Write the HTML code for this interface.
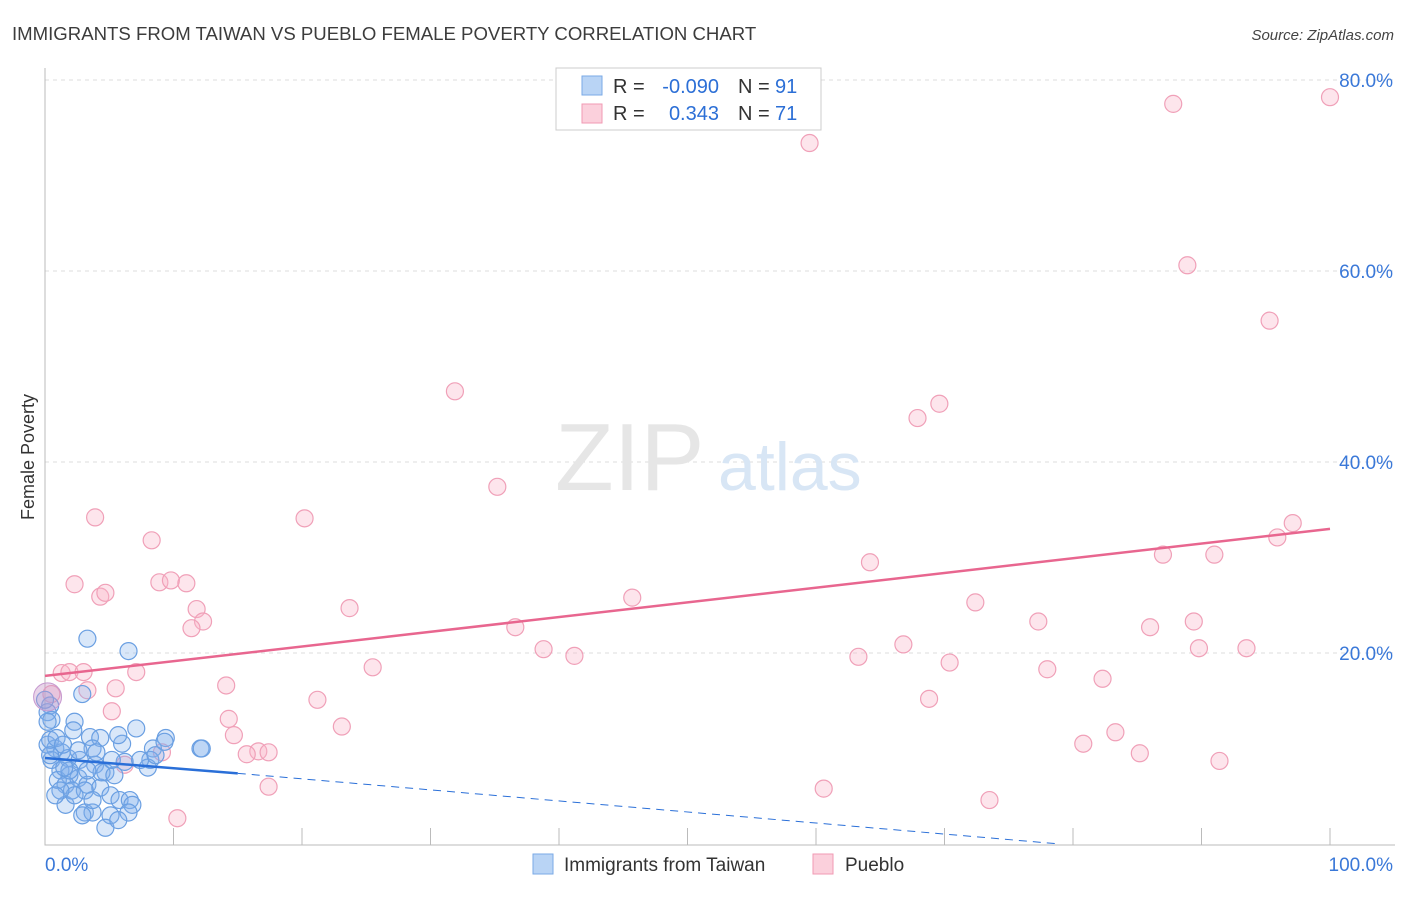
<!DOCTYPE html>
<html><head><meta charset="utf-8"><style>
body{margin:0;background:#fff;font-family:"Liberation Sans",sans-serif;}
svg text{font-family:"Liberation Sans",sans-serif;}
</style></head><body>
<svg id="chart" width="1406" height="892" xmlns="http://www.w3.org/2000/svg">
<text x="12" y="40" font-size="18.6" fill="#3c3c3c">IMMIGRANTS FROM TAIWAN VS PUEBLO FEMALE POVERTY CORRELATION CHART</text>
<text x="1394" y="40" font-size="15" fill="#444" font-style="italic" text-anchor="end">Source: ZipAtlas.com</text>
<text transform="translate(34,457) rotate(-90)" font-size="18" fill="#333" text-anchor="middle">Female Poverty</text>
<g id="grid"></g>
<text x="555" y="490" font-size="96" fill="#e6e6e6" font-family="Liberation Serif">ZIP</text>
<text x="718" y="490" font-size="68" fill="#d8e6f5">atlas</text>
<g id="marks"></g>
<g>
<rect x="556" y="68" width="265" height="62" fill="#fff" stroke="#ccc"/>
<rect x="582" y="76" width="20" height="19" fill="#b9d4f5" stroke="#7aaae6"/>
<rect x="582" y="104" width="20" height="19" fill="#fbd0dc" stroke="#f09ab3"/>
<text x="613" y="93" font-size="20" fill="#333">R =</text>
<text x="719" y="93" font-size="20" fill="#2c6fd6" text-anchor="end">-0.090</text>
<text x="738" y="93" font-size="20" fill="#333">N =</text>
<text x="775" y="93" font-size="20" fill="#2c6fd6">91</text>
<text x="613" y="120" font-size="20" fill="#333">R =</text>
<text x="719" y="120" font-size="20" fill="#2c6fd6" text-anchor="end">0.343</text>
<text x="738" y="120" font-size="20" fill="#333">N =</text>
<text x="775" y="120" font-size="20" fill="#2c6fd6">71</text>
</g>
<g>
<rect x="533" y="854" width="20" height="20" fill="#b9d4f5" stroke="#7aaae6"/>
<text x="564" y="871" font-size="19" fill="#333">Immigrants from Taiwan</text>
<rect x="813" y="854" width="20" height="20" fill="#fbd0dc" stroke="#f09ab3"/>
<text x="845" y="871" font-size="19" fill="#333">Pueblo</text>
</g>
</svg>
<script>
const yTicks=[20,40,60,80];
const xTicks=[0,10,20,30,40,50,60,70,80,90,100];
const blueX=[3.3,6.5,2.9,0.4,0.2,0.5,2.3,2.2,7.1,3.5,4.3,9.4,6.0,8.4,12.1,12.2,0.2,0.8,1.3,1.8,3.7,2.7,3.9,6.2,8.2,8.0,4.7,1.2,1.9,2.6,3.3,4.3,5.1,5.8,6.6,6.8,6.5,1.6,3.1,3.7,5.1,4.7,0.4,0.5,1.0,1.6,2.1,4.4,5.4,3.1,3.7,7.4,0.2,0.9,1.4,1.9,2.3,2.9,5.7,8.6,9.3,5.2,4.0,5.7,1.2,0,0.4,0.8,1.5,2.6,3.3];
const blueY=[21.5,20.2,15.7,14.5,13.8,13.0,12.8,11.9,12.1,11.2,11.1,11.1,10.5,10.0,10.0,10.0,10.4,10.0,9.6,9.0,10.0,8.8,8.3,8.6,8.8,8.0,7.5,7.7,7.2,6.9,6.2,5.9,5.1,4.6,4.6,4.1,3.3,4.1,3.3,3.3,3.0,1.7,10.9,8.8,6.7,6.2,5.6,7.5,7.2,5.6,4.6,8.8,12.8,11.1,10.4,7.7,5.1,3.0,2.5,9.3,10.7,8.8,9.6,11.4,5.6,15.1,9.3,5.1,8.0,9.8,7.7];
const pinkX=[100,87.8,59.5,88.9,95.3,31.9,69.6,67.9,35.2,3.9,20.2,97.1,8.3,95.9,87.0,91.0,64.2,2.3,8.9,9.8,11.0,4.3,4.7,45.7,72.4,23.7,11.8,12.3,11.4,77.3,36.6,89.4,86.0,38.8,41.2,89.8,93.5,66.8,63.3,70.4,1.3,1.9,3.0,7.1,25.5,78.0,82.3,14.1,5.5,0.5,3.3,21.2,68.8,5.2,14.3,14.7,23.1,83.3,80.8,85.2,16.6,15.7,17.4,9.1,6.2,91.4,17.4,60.6,73.5,10.3];
const pinkY=[78.2,77.5,73.4,60.6,54.8,47.4,46.1,44.6,37.4,34.2,34.1,33.6,31.8,32.1,30.3,30.3,29.5,27.2,27.4,27.6,27.3,25.9,26.3,25.8,25.3,24.7,24.6,23.3,22.6,23.3,22.7,23.3,22.7,20.4,19.7,20.5,20.5,20.9,19.6,19.0,17.9,18.0,18.0,18.0,18.5,18.3,17.3,16.6,16.3,15.7,16.1,15.1,15.2,13.9,13.1,11.4,12.3,11.7,10.5,9.5,9.7,9.4,9.6,9.6,8.3,8.7,6.0,5.8,4.6,2.7];
const blueFit=[9.0,7.4];   // y at x=0 and x=15
const blueDash=[7.4,0];    // y at x=15 and x=79
const pinkFit=[17.6,33.0]; // y at x=0 and x=100
const X0=45,X1=1330,Y0=844,Y80=80;
const sx=v=>X0+(X1-X0)*v/100;
const sy=v=>Y0-(Y0-Y80)*v/80;
const NS="http://www.w3.org/2000/svg";
function mk(tag,attrs,parent){const e=document.createElementNS(NS,tag);for(const k in attrs)e.setAttribute(k,attrs[k]);parent.appendChild(e);return e;}
const grid=document.getElementById('grid'),marks=document.getElementById('marks');
yTicks.forEach(t=>{
 const l=mk('line',{x1:X0,x2:1395,y1:sy(t),y2:sy(t),stroke:'#ddd','stroke-dasharray':'4,4'},grid);
 
 
 const tx=mk('text',{x:1393,y:sy(t)+7,'font-size':19,fill:'#3a78d8','text-anchor':'end'},grid);
 tx.textContent=t.toFixed(1)+'%';
 
 
});
const ax=mk('path',{d:`M${X0},68 V845 H1395`,stroke:'#bbb',fill:'none'},grid);


xTicks.forEach(t=>{
 const l=mk('line',{x1:sx(t),x2:sx(t),y1:828,y2:845,stroke:'#bbb'},grid);
 
 
});
[[0,'0.0%','start',45],[100,'100.0%','end',1393]].forEach(a=>{
 const tx=mk('text',{x:a[3],y:871,'font-size':19,fill:'#3a78d8','text-anchor':a[2]},grid);
 tx.textContent=a[1];
 
 
});
pinkX.forEach((v,i)=>{
 const c=mk('circle',{cx:sx(v),cy:sy(pinkY[i]),r:8.5,fill:'rgba(248,180,200,0.35)',stroke:'#f0a0b8','stroke-width':1.2},marks);
 
 
});
blueX.forEach((v,i)=>{
 const c=mk('circle',{cx:sx(v),cy:sy(blueY[i]),r:8.5,fill:'rgba(130,175,235,0.3)',stroke:'#6a9fe2','stroke-width':1.2},marks);
 
 
});
const big=mk('circle',{cx:sx(0.2),cy:sy(15.4),r:14,fill:'rgba(200,150,200,0.4)',stroke:'#c79ad0'},marks);


let l=mk('line',{x1:sx(0),y1:sy(pinkFit[0]),x2:sx(100),y2:sy(pinkFit[1]),stroke:'#e8668f','stroke-width':2.5},marks);


l=mk('line',{x1:sx(0),y1:sy(blueFit[0]),x2:sx(15),y2:sy(blueFit[1]),stroke:'#2a6fd8','stroke-width':2.5},marks);


l=mk('line',{x1:sx(15),y1:sy(blueDash[0]),x2:sx(79),y2:sy(blueDash[1]),stroke:'#2a6fd8','stroke-width':1,'stroke-dasharray':'8,6'},marks);


</script>
</body></html>
